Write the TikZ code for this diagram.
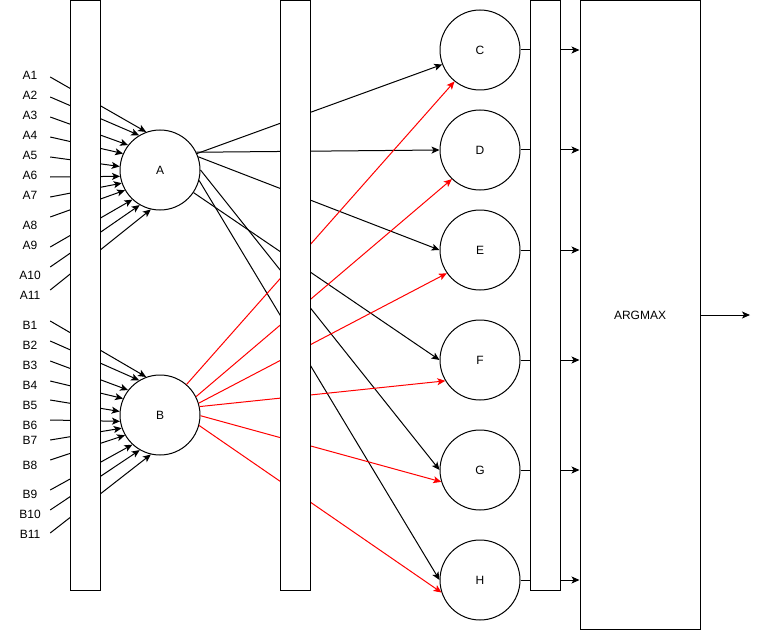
\documentclass[tikz,border=0pt]{standalone}
\usepackage{fontspec}
\setmainfont{Liberation Sans}
\usetikzlibrary{arrows.meta}

\begin{document}
\begin{tikzpicture}[x=1pt,y=-1pt,
    every node/.style={font=\fontsize{12}{14}\selectfont},
    neuron/.style={shape=circle,draw=black,line width=1pt,minimum size=80pt,inner sep=0pt},
    bar/.style={draw=black,fill=white,line width=1pt,minimum width=30pt,minimum height=589.5pt,inner sep=0pt},
    inlab/.style={minimum width=40pt,inner sep=0pt},
    wire/.style={line width=1pt,-{Stealth[length=8pt,width=7pt,inset=2pt]}},
    redwire/.style={wire,draw=red}]
                    \useasboundingbox (0,0) rectangle (759,631);

                    \node[neuron] (A) at (160,170) {A};
                    \node[neuron] (B) at (160,415) {B};
                    \node[neuron] (C) at (480,50) {C};
                    \node[neuron] (D) at (480,150) {D};
                    \node[neuron] (E) at (480,250) {E};
                    \node[neuron] (F) at (480,360) {F};
                    \node[neuron] (G) at (480,470) {G};
                    \node[neuron] (H) at (480,580) {H};
                    \node[draw=black,line width=1pt,minimum width=120pt,minimum height=629pt,inner sep=0pt] (argmax) at (640,315) {ARGMAX};
                    \coordinate (out) at (750,315);

                    \node[inlab] (a1) at (30,75) {A1};
                    \node[inlab] (a2) at (30,95) {A2};
                    \node[inlab] (a3) at (30,115) {A3};
                    \node[inlab] (a4) at (30,135) {A4};
                    \node[inlab] (a5) at (30,155) {A5};
                    \node[inlab] (a6) at (30,175) {A6};
                    \node[inlab] (a7) at (30,195) {A7};
                    \node[inlab] (a8) at (30,225) {A8};
                    \node[inlab] (a9) at (30,245) {A9};
                    \node[inlab] (a10) at (30,275) {A10};
                    \node[inlab] (a11) at (30,295) {A11};

                    \node[inlab] (b1) at (30,325) {B1};
                    \node[inlab] (b2) at (30,345) {B2};
                    \node[inlab] (b3) at (30,365) {B3};
                    \node[inlab] (b4) at (30,385) {B4};
                    \node[inlab] (b5) at (30,405) {B5};
                    \node[inlab] (b6) at (30,425) {B6};
                    \node[inlab] (b7) at (30,440) {B7};
                    \node[inlab] (b8) at (30,465) {B8};
                    \node[inlab] (b9) at (30,494) {B9};
                    \node[inlab] (b10) at (30,514) {B10};
                    \node[inlab] (b11) at (30,534) {B11};

                    % inputs into A
                    \draw[wire] ([yshift=-2pt]a1.east) -- (A.110);
                    \draw[wire] ([yshift=-2pt]a2.east) -- (A.121);
                    \draw[wire] ([yshift=-2pt]a3.east) -- (A.142);
                    \draw[wire] ([yshift=-2pt]a4.east) -- (A.156);
                    \draw[wire] ([yshift=-2pt]a5.east) -- (A.175);
                    \draw[wire] ([yshift=-2pt]a6.east) -- (A.189);
                    \draw[wire] ([yshift=-2pt]a7.east) -- (A.199);
                    \draw[wire] ([yshift=8pt]a8.east) -- (A.210);
                    \draw[wire] ([yshift=-2pt]a9.east) -- (A.227);
                    \draw[wire] ([yshift=8pt]a10.east) -- (A.240);
                    \draw[wire] ([yshift=5pt]a11.east) -- (A.257);

                    % inputs into B
                    \draw[wire] ([yshift=4pt]b1.east) -- (B.110);
                    \draw[wire] ([yshift=4pt]b2.east) -- (B.121);
                    \draw[wire] ([yshift=4pt]b3.east) -- (B.142);
                    \draw[wire] ([yshift=4pt]b4.east) -- (B.156);
                    \draw[wire] ([yshift=5pt]b5.east) -- (B.175);
                    \draw[wire] ([yshift=5pt]b6.east) -- (B.189);
                    \draw[wire] (b7.east) -- (B.199);
                    \draw[wire] ([yshift=5pt]b8.east) -- (B.210);
                    \draw[wire] ([yshift=4pt]b9.east) -- (B.227);
                    \draw[wire] ([yshift=4pt]b10.east) -- (B.240);
                    \draw[wire] ([yshift=1pt]b11.east) -- (B.257);

                    % A to outputs
                    \draw[wire] (A.24) -- (C.201);
                    \draw[wire] (A.26) -- (D.180);
                    \draw[wire] (A.19) -- (E.180);
                    \draw[wire] (A.326) -- (F.180);
                    \draw[wire] (A.0) -- (G.180);
                    \draw[wire] (A.345) -- (H.180);

                    % B to outputs
                    \draw[redwire] (B.49) -- (C.231);
                    \draw[redwire] (B.27) -- (D.226);
                    \draw[redwire] (B.17) -- (E.215);
                    \draw[redwire] (B.12) -- (F.211);
                    \draw[redwire] (B.359) -- (G.197);
                    \draw[redwire] (B.345) -- (H.198);

                    % outputs to argmax
                    \draw[wire] (C.east) -- (C.east -| argmax.west);
                    \draw[wire] (D.east) -- (D.east -| argmax.west);
                    \draw[wire] (E.east) -- (E.east -| argmax.west);
                    \draw[wire] (F.east) -- (F.east -| argmax.west);
                    \draw[wire] (G.east) -- (G.east -| argmax.west);
                    \draw[wire] (H.east) -- (H.east -| argmax.west);
                    \draw[wire] (argmax.east) -- (out);

                    \node[bar] (inbar) at (85,295.25) {};
                    \node[bar] (midbar) at (295,295.25) {};
                    \node[bar] (outbar) at (545,295.25) {};
                \end{tikzpicture}
\end{document}
